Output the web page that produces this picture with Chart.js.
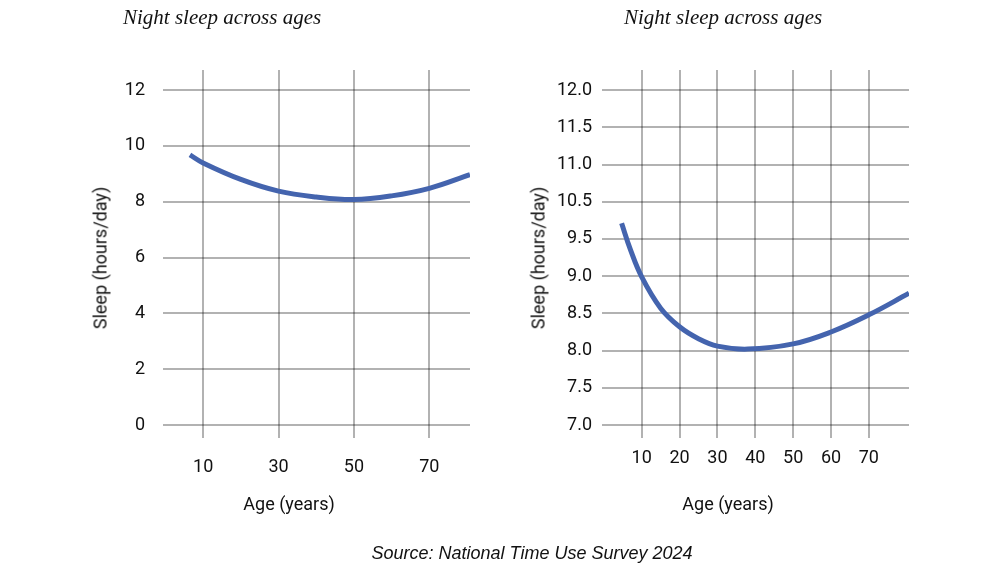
<!DOCTYPE html>
<html>
<head>
<meta charset="utf-8">
<script src="https://cdn.jsdelivr.net/npm/chart.js@4/dist/chart.umd.min.js"></script>
<style>
  body { margin: 0; background: #fff; }
  #wrap { position: relative; width: 998px; height: 581px; overflow: hidden; }
  .box { position: absolute; top: 0; width: 499px; height: 581px; }
  .txt { position: absolute; white-space: nowrap; color: #111; }
  .title { font-family: 'Liberation Serif', serif; font-style: italic; font-size: 21px; top: 5px; }
  .axt { font-family: Roboto, sans-serif; font-size: 18px; transform: translate(-50%, -50%); }
  .rot { transform: translate(-50%, -50%) rotate(-90deg); }
  .src { font-family: 'Liberation Sans', sans-serif; font-style: italic; font-size: 18px; left: 532px; top: 553px; transform: translate(-50%, -50%); }
</style>
</head>
<body>
<div id="wrap">
  <div class="box" style="left:0"><canvas id="leftChart"></canvas></div>
  <div class="box" style="left:499px"><canvas id="rightChart"></canvas></div>

  <div class="txt title" style="left:123px">Night sleep across ages</div>
  <div class="txt title" style="left:624px">Night sleep across ages</div>
  <div class="txt axt rot" style="left:100px; top:258px">Sleep (hours/day)</div>
  <div class="txt axt rot" style="left:538px; top:258px">Sleep (hours/day)</div>
  <div class="txt axt" style="left:289px; top:503px">Age (years)</div>
  <div class="txt axt" style="left:728px; top:503px">Age (years)</div>
  <div class="txt src">Source: National Time Use Survey 2024</div>
</div>

<script>
// left panel: full 0-12 scale
const leftAges  = [6.5, 10, 20, 30, 40, 50, 60, 70, 80.8];
const leftSleep = [9.68, 9.39, 8.8, 8.38, 8.17, 8.08, 8.21, 8.48, 8.97];
const leftXTicks = [10, 30, 50, 70];
const leftYTicks = [0, 2, 4, 6, 8, 10, 12];

// right panel: zoomed scale (labels skip 10.0 like the original)
const rightAges  = [4.7, 7, 10, 15, 20, 25, 30, 38, 50, 60, 70, 80.6];
const rightSleep = [9.71, 9.36, 8.99, 8.57, 8.32, 8.16, 8.06, 8.02, 8.09, 8.25, 8.48, 8.77];
const rightXTicks = [10, 20, 30, 40, 50, 60, 70];
const rightYTicks = [7.0, 7.5, 8.0, 8.5, 9.0, 9.5, 10.0, 10.5, 11.0, 11.5];
const rightYLabels = ['7.0', '7.5', '8.0', '8.5', '9.0', '9.5', '10.5', '11.0', '11.5', '12.0'];

const lineColor = '#4464ae';
const gridColor = 'rgba(0,0,0,0.3)';
const tickFont = { family: 'Roboto', size: 18 };

function makeChart(id, ages, sleep, opts) {
  return new Chart(document.getElementById(id), {
    type: 'line',
    data: {
      datasets: [{
        data: ages.map((a, i) => ({ x: a, y: sleep[i] })),
        borderColor: lineColor,
        borderWidth: 5,
        pointRadius: 0,
        tension: 0.4,
        fill: false
      }]
    },
    options: {
      responsive: true,
      maintainAspectRatio: false,
      animation: false,
      layout: { padding: { top: 70, right: opts.padRight, bottom: 96, left: 0 } },
      plugins: { legend: { display: false }, tooltip: { enabled: false } },
      scales: {
        x: {
          type: 'linear',
          min: opts.xMin,
          max: opts.xMax,
          afterBuildTicks: s => { s.ticks = opts.xTicks.map(v => ({ value: v })); },
          afterFit: s => { s.height = 60; },
          border: { display: false },
          grid: { color: gridColor, lineWidth: 2, tickLength: 13 },
          ticks: { color: '#111', font: tickFont, padding: opts.xPad, maxRotation: 0 }
        },
        y: {
          min: opts.yMin,
          max: opts.yMax,
          afterBuildTicks: s => { s.ticks = opts.yTicks.map(v => ({ value: v })); },
          afterFit: s => { s.width = opts.yWidth; },
          border: { display: false },
          grid: { color: gridColor, lineWidth: 2, tickLength: 13 },
          ticks: {
            color: '#111',
            font: tickFont,
            padding: opts.yPad,
            callback: opts.yLabel
          }
        }
      }
    }
  });
}

makeChart('leftChart', leftAges, leftSleep, {
  xMin: 2.8, xMax: 80.8, xTicks: leftXTicks, xPad: 19,
  yMin: 0, yMax: 12.72, yTicks: leftYTicks, yWidth: 176, yPad: 18,
  padRight: 29,
  yLabel: v => v
});

makeChart('rightChart', rightAges, rightSleep, {
  xMin: 2.95, xMax: 80.6, xTicks: rightXTicks, xPad: 10,
  yMin: 7, yMax: 11.77, yTicks: rightYTicks, yWidth: 116, yPad: 10,
  padRight: 89,
  yLabel: (v, i) => rightYLabels[i]
});
</script>
</body>
</html>
